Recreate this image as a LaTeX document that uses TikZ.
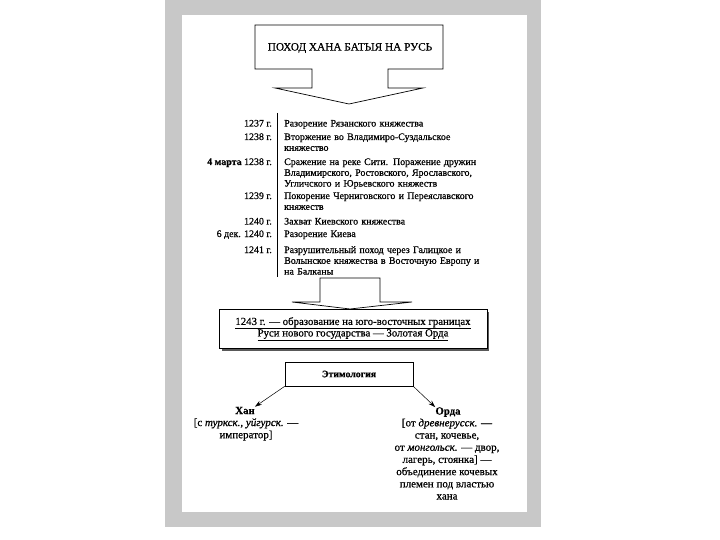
\documentclass[tikz,border=0pt]{standalone}
\usepackage{fontspec}
\setmainfont{Liberation Serif}[RawFeature={embolden=0.6}]
\usetikzlibrary{arrows.meta}
\definecolor{framegray}{RGB}{200,200,200}
\tikzset{
  txt/.style={inner sep=0pt, font=\fontsize{9.9}{10.8}\selectfont},
  datelbl/.style={txt, anchor=base east},
  evt/.style={txt, anchor=base west, text width=215pt, align=left},
  shapeline/.style={draw=black, line width=0.7pt},
  etybox/.style={draw=black, line width=0.7pt, minimum width=128pt, minimum height=24pt, inner sep=0pt, font=\fontsize{9.8}{12}\selectfont\bfseries},
  etyarrow/.style={line width=0.5pt, -{Stealth[length=7pt,width=4.5pt]}},
  blocktxt/.style={inner sep=0pt, align=center, font=\fontsize{11}{12.2}\selectfont},
  headtxt/.style={inner sep=0pt, anchor=base, font=\fontsize{10.8}{12}\selectfont\bfseries},
}
\begin{document}
\begin{tikzpicture}[x=1pt,y=-1pt]
\useasboundingbox (0,0) rectangle (720,540);
% page frame
\fill[framegray] (165,0) rectangle (541,527);
\fill[white] (182,15) rectangle (527,512);

% title arrow
\draw[shapeline, line join=miter] (255,25) -- (443,25) -- (443,69) -- (388,69) -- (388,88) -- (423,88) -- (349,104) -- (275,88) -- (312,88) -- (312,69) -- (255,69) -- cycle;
\node[inner sep=0pt, font=\fontsize{11.3}{12}\selectfont] (title) at (350,48) {ПОХОД ХАНА БАТЫЯ НА РУСЬ};

% timeline
\coordinate (ltop) at (277,113);
\coordinate (lbot) at (277,277);
\draw[line width=0.8pt] (ltop) -- (lbot);

\node[datelbl] (d1) at (272,126.5) {1237 г.};
\node[evt] (e1) at (284,126.5) {Разорение Рязанского княжества};
\node[datelbl] (d2) at (272,140) {1238 г.};
\node[evt] (e2) at (284,140) {Вторжение во Владимиро-Суздальское\\княжество};
\node[datelbl] (d3) at (272,165) {\textbf{4 марта} 1238 г.};
\node[evt] (e3) at (284,165) {Сражение на реке Сити. Поражение дружин\\Владимирского, Ростовского, Ярославского,\\Угличского и Юрьевского княжеств};
\node[datelbl] (d4) at (272,199) {1239 г.};
\node[evt] (e4) at (284,199) {Покорение Черниговского и Переяславского\\княжеств};
\node[datelbl] (d5) at (272,224.5) {1240 г.};
\node[evt] (e5) at (284,224.5) {Захват Киевского княжества};
\node[datelbl] (d6) at (272,237) {6 дек. 1240 г.};
\node[evt] (e6) at (284,237) {Разорение Киева};
\node[datelbl] (d7) at (272,253) {1241 г.};
\node[evt] (e7) at (284,253) {Разрушительный поход через Галицкое и\\Волынское княжества в Восточную Европу и\\на Балканы};

% second arrow
\draw[shapeline, line join=miter] (320,302) -- (320,278) -- (380,278) -- (380,302) -- (412,302) -- (350,309) -- (292,302) -- cycle;

% Golden Horde box
\fill[black!65] (221.5,311.5) rectangle (489,351);
\draw[shapeline, fill=white] (219,309) rectangle (487,348.5);
\node[blocktxt, font=\fontsize{10.8}{11.5}\selectfont] (horde) at (353,329) {\underline{1243 г. — образование на юго-восточных границах}\\\underline{Руси нового государства — Золотая Орда}};

% etymology
\node[etybox] (ety) at (349,374) {Этимология};

\node[headtxt] (hanT) at (245,414) {Хан};
\node[blocktxt, anchor=north] (hanD) at (246,418) {[с \textit{туркск., уйгурск.} —\\император]};

\node[headtxt] (ordaT) at (448,414.5) {Орда};
\node[blocktxt, anchor=north] (ordaD) at (447,418.5) {[от \textit{древнерусск.} —\\стан, кочевье,\\от \textit{монгольск.} — двор,\\лагерь, стоянка] —\\объединение кочевых\\племен под властью\\хана};

\draw[etyarrow] (ety.south west) -- (hanT.north east);
\draw[etyarrow] (ety.south east) -- (ordaT.north west);
\end{tikzpicture}
\end{document}
